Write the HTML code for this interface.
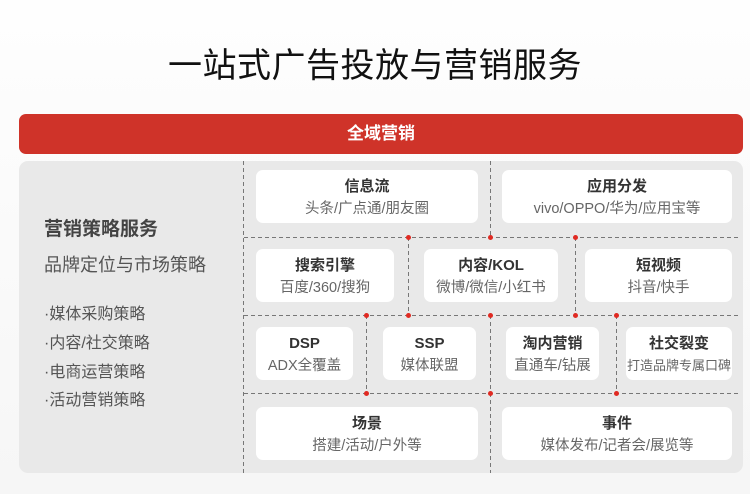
<!DOCTYPE html>
<html><head><meta charset="utf-8"><style>
*{margin:0;padding:0;box-sizing:border-box}
body{width:750px;height:494px;overflow:hidden;background:linear-gradient(#fefefe,#f6f6f6);font-family:"Liberation Sans","Noto Sans CJK SC",sans-serif;position:relative}
.t{position:absolute;left:0;width:750px;top:44px;text-align:center;font-size:34px;color:#111;line-height:44px;letter-spacing:0.5px}
.bar{position:absolute;left:19px;top:114px;width:724px;height:40px;background:#cf3329;border-radius:7px;color:#fff;font-weight:bold;font-size:17px;text-align:center;line-height:40px}
.panel{position:absolute;left:19px;top:161px;width:724px;height:312px;background:#e9e9e9;border-radius:9px}
.b{position:absolute;background:#fff;border-radius:7px;text-align:center}
.b .h{font-weight:bold;font-size:15px;color:#333;margin-top:7px;line-height:20px}
.b .s{font-size:14.5px;color:#666;line-height:20px;margin-top:2px;white-space:nowrap}
.l{position:absolute;left:44px;color:#555;white-space:nowrap}
svg{position:absolute;left:0;top:0}
</style></head><body>
<div class="t">一站式广告投放与营销服务</div>
<div class="bar">全域营销</div>
<div class="panel"></div>
<div class="l" style="top:214px;font-size:19px;font-weight:bold;color:#444">营销策略服务</div>
<div class="l" style="top:251px;font-size:18px">品牌定位与市场策略</div>
<div class="l" style="top:300px;font-size:16px">·媒体采购策略</div>
<div class="l" style="top:329px;font-size:16px">·内容/社交策略</div>
<div class="l" style="top:358px;font-size:16px">·电商运营策略</div>
<div class="l" style="top:386px;font-size:16px">·活动营销策略</div>
<svg width="750" height="494">
<g stroke="#777" stroke-width="1" stroke-dasharray="4,3" fill="none">
<line x1="243.5" y1="161" x2="243.5" y2="473"/>
<line x1="244" y1="237.5" x2="741" y2="237.5"/>
<line x1="244" y1="315.5" x2="741" y2="315.5"/>
<line x1="244" y1="393.5" x2="741" y2="393.5"/>
<line x1="490.5" y1="161" x2="490.5" y2="237"/>
<line x1="408.5" y1="237" x2="408.5" y2="315"/>
<line x1="575.5" y1="237" x2="575.5" y2="315"/>
<line x1="366.5" y1="315" x2="366.5" y2="393"/>
<line x1="490.5" y1="315" x2="490.5" y2="393"/>
<line x1="616.5" y1="315" x2="616.5" y2="393"/>
<line x1="490.5" y1="393" x2="490.5" y2="473"/>
</g>
<g fill="#e02a22">
<circle cx="408.5" cy="237.5" r="2.5"/><circle cx="490.5" cy="237.5" r="2.5"/><circle cx="575.5" cy="237.5" r="2.5"/>
<circle cx="366.5" cy="315.5" r="2.5"/><circle cx="408.5" cy="315.5" r="2.5"/><circle cx="490.5" cy="315.5" r="2.5"/><circle cx="575.5" cy="315.5" r="2.5"/><circle cx="616.5" cy="315.5" r="2.5"/>
<circle cx="366.5" cy="393.5" r="2.5"/><circle cx="490.5" cy="393.5" r="2.5"/><circle cx="616.5" cy="393.5" r="2.5"/>
</g>
</svg>
<div class="b" style="left:256px;top:170px;width:222px;height:53px"><div class="h">信息流</div><div class="s">头条/广点通/朋友圈</div></div>
<div class="b" style="left:502px;top:170px;width:230px;height:53px"><div class="h">应用分发</div><div class="s">vivo/OPPO/华为/应用宝等</div></div>
<div class="b" style="left:256px;top:249px;width:138px;height:53px"><div class="h">搜索引擎</div><div class="s">百度/360/搜狗</div></div>
<div class="b" style="left:424px;top:249px;width:134px;height:53px"><div class="h">内容/KOL</div><div class="s">微博/微信/小红书</div></div>
<div class="b" style="left:585px;top:249px;width:147px;height:53px"><div class="h">短视频</div><div class="s">抖音/快手</div></div>
<div class="b" style="left:256px;top:327px;width:97px;height:53px"><div class="h">DSP</div><div class="s">ADX全覆盖</div></div>
<div class="b" style="left:383px;top:327px;width:93px;height:53px"><div class="h">SSP</div><div class="s">媒体联盟</div></div>
<div class="b" style="left:506px;top:327px;width:93px;height:53px"><div class="h">淘内营销</div><div class="s">直通车/钻展</div></div>
<div class="b" style="left:626px;top:327px;width:106px;height:53px"><div class="h">社交裂变</div><div class="s" style="font-size:13px">打造品牌专属口碑</div></div>
<div class="b" style="left:256px;top:407px;width:222px;height:53px"><div class="h">场景</div><div class="s">搭建/活动/户外等</div></div>
<div class="b" style="left:502px;top:407px;width:230px;height:53px"><div class="h">事件</div><div class="s">媒体发布/记者会/展览等</div></div>
</body></html>
